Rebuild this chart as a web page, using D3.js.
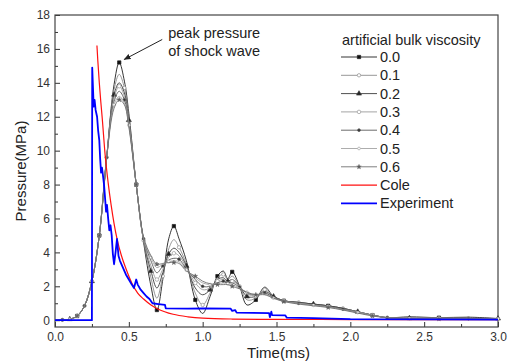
<!DOCTYPE html>
<html>
<head>
<meta charset="utf-8">
<script src="https://cdn.jsdelivr.net/npm/d3@7"></script>
<style>
	body { margin: 0; background: #fff; }
	svg { display: block; font-family: "Liberation Sans", Arial, sans-serif; }
</style>
</head>
<body>
<div id="chart"></div>
<script>
/* global d3 */
'use strict';

// simulated curves share one time axis (ms)
var simTime = [0, 0.05, 0.1, 0.15, 0.2, 0.25, 0.3, 0.35, 0.4, 0.435, 0.47, 0.5, 0.55, 0.6, 0.65, 0.69, 0.73, 0.77, 0.805, 0.84, 0.89, 0.95, 1.0, 1.05, 1.1, 1.14, 1.17, 1.2, 1.25, 1.3, 1.36, 1.42, 1.48, 1.55, 1.65, 1.75, 1.85, 1.95, 2.05, 2.15, 2.25, 2.4, 2.6, 2.8, 3.0];

var visc00 = [0, 0.02, 0.06, 0.25, 0.85, 2.3, 5.0, 9.6, 13.9, 15.2, 14.1, 12.2, 8.0, 4.6, 2.0, 0.6, 2.4, 4.8, 5.55, 4.8, 3.5, 1.2, 0.4, 1.4, 2.6, 2.9, 2.45, 2.85, 2.0, 0.9, 1.2, 1.95, 1.4, 1.15, 1.05, 0.95, 0.85, 0.7, 0.5, 0.3, 0.15, 0.2, 0.15, 0.18, 0.1];
var visc01 = [0, 0.02, 0.06, 0.25, 0.85, 2.3, 5.0, 9.6, 13.6, 14.5, 13.7, 12.0, 8.0, 4.7, 2.5, 1.3, 2.6, 4.2, 4.75, 4.3, 3.3, 1.6, 0.9, 1.6, 2.5, 2.7, 2.4, 2.6, 2.0, 1.2, 1.3, 1.8, 1.4, 1.15, 1.05, 0.95, 0.85, 0.7, 0.5, 0.3, 0.15, 0.12, 0.15, 0.12, 0.1];
var visc02 = [0, 0.02, 0.06, 0.25, 0.85, 2.3, 5.0, 9.6, 13.3, 14.0, 13.4, 11.8, 8.0, 4.7, 2.9, 1.9, 2.8, 3.9, 4.25, 4.0, 3.2, 1.9, 1.5, 1.8, 2.4, 2.5, 2.3, 2.4, 2.0, 1.4, 1.4, 1.7, 1.4, 1.15, 1.05, 0.95, 0.85, 0.7, 0.5, 0.3, 0.15, 0.12, 0.12, 0.12, 0.1];
var visc03 = [0, 0.02, 0.06, 0.25, 0.85, 2.3, 5.0, 9.6, 13.1, 13.8, 13.2, 11.7, 8.0, 4.7, 3.2, 2.4, 3.0, 3.7, 3.95, 3.8, 3.1, 2.2, 1.8, 1.9, 2.3, 2.4, 2.25, 2.3, 2.0, 1.55, 1.45, 1.65, 1.35, 1.15, 1.0, 0.9, 0.8, 0.65, 0.5, 0.3, 0.15, 0.12, 0.12, 0.1, 0.1];
var visc04 = [0, 0.02, 0.06, 0.25, 0.85, 2.3, 5.0, 9.6, 12.9, 13.5, 13.0, 11.6, 8.0, 4.8, 3.5, 2.8, 3.2, 3.55, 3.65, 3.6, 3.0, 2.4, 2.0, 2.0, 2.2, 2.3, 2.2, 2.2, 1.95, 1.6, 1.5, 1.6, 1.35, 1.15, 1.0, 0.9, 0.8, 0.65, 0.45, 0.3, 0.15, 0.1, 0.1, 0.1, 0.08];
var visc05 = [0, 0.02, 0.06, 0.25, 0.85, 2.3, 5.0, 9.6, 12.7, 13.2, 12.8, 11.5, 8.0, 4.8, 3.7, 3.1, 3.3, 3.45, 3.5, 3.45, 2.95, 2.5, 2.2, 2.1, 2.15, 2.2, 2.15, 2.1, 1.9, 1.65, 1.5, 1.55, 1.3, 1.1, 1.0, 0.88, 0.78, 0.62, 0.45, 0.28, 0.15, 0.1, 0.1, 0.08, 0.08];
var visc06 = [0, 0.02, 0.06, 0.25, 0.85, 2.3, 5.0, 9.6, 12.5, 13.0, 12.7, 11.4, 8.0, 4.9, 3.8, 3.3, 3.35, 3.4, 3.4, 3.35, 2.9, 2.6, 2.3, 2.15, 2.1, 2.1, 2.1, 2.0, 1.85, 1.65, 1.5, 1.5, 1.3, 1.1, 0.95, 0.85, 0.75, 0.6, 0.42, 0.25, 0.15, 0.1, 0.08, 0.08, 0.08];

var viscLabels = ["0.0", "0.1", "0.2", "0.3", "0.4", "0.5", "0.6"];

var coleTime = [0.284, 0.29, 0.30, 0.31, 0.32, 0.34, 0.36, 0.38, 0.40, 0.42, 0.45, 0.48, 0.52, 0.56, 0.60, 0.65, 0.70, 0.80, 0.90, 1.0, 1.2, 1.5, 2.0, 2.5, 3.0];
var coleP = [16.2, 15.3, 14.0, 12.9, 11.9, 9.7, 8.1, 6.8, 5.7, 4.8, 3.8, 3.05, 2.2, 1.6, 1.25, 0.9, 0.65, 0.35, 0.2, 0.12, 0.07, 0.05, 0.04, 0.03, 0.03];

var expTime = [0, 0.25, 0.252, 0.262, 0.268, 0.275, 0.285, 0.292, 0.30, 0.306, 0.312, 0.318, 0.324, 0.332, 0.34, 0.346, 0.352, 0.36, 0.368, 0.376, 0.384, 0.392, 0.40, 0.41, 0.42, 0.43, 0.44, 0.46, 0.48, 0.50, 0.52, 0.535, 0.55, 0.56, 0.58, 0.60, 0.62, 0.64, 0.66, 0.70, 0.745, 0.75, 0.90, 1.0, 1.19, 1.2, 1.22, 1.23, 1.45, 1.455, 1.465, 1.47, 1.56, 1.57, 1.75, 2.0, 2.5, 3.0];
var expP = [0, 0, 14.9, 12.6, 13.0, 12.4, 12.0, 11.2, 10.6, 9.5, 8.7, 9.0, 8.6, 8.0, 7.1, 6.4, 6.8, 6.0, 5.3, 5.6, 5.0, 3.9, 3.3, 4.0, 4.8, 3.8, 3.5, 3.1, 2.7, 2.4, 2.1, 1.9, 2.4, 2.1, 1.8, 1.6, 1.4, 1.25, 1.0, 0.95, 0.9, 0.7, 0.68, 0.7, 0.68, 0.55, 0.6, 0.45, 0.42, 0.18, 0.5, 0.3, 0.28, 0.15, 0.12, 0.06, 0.05, 0.04];

var xTicks = [0, 0.5, 1.0, 1.5, 2.0, 2.5, 3.0],
	yTicks = [0, 2, 4, 6, 8, 10, 12, 14, 16, 18];

(function() {
	var width = 511,
		height = 363,
		left = 55, right = 498, top = 15, bottom = 327,
		series = [visc00, visc01, visc02, visc03, visc04, visc05, visc06],
		lineColors = ["#1e1e1e", "#8c8c8c", "#3c3c3c", "#9a9a9a", "#5a5a5a", "#a4a4a4", "#707070"],
		markers = [
			{type: d3.symbolSquare, size: 11, fill: "#111"},
			{type: d3.symbolCircle, size: 9, fill: "#fff"},
			{type: d3.symbolTriangle, size: 11, fill: "#222"},
			{type: d3.symbolCircle, size: 10, fill: "#fff"},
			{type: d3.symbolCircle, size: 6, fill: "#333"},
			{type: d3.symbolCircle, size: 6, fill: "#fff"},
			{type: d3.symbolStar, size: 6, fill: "#555"}
		],
		x, y, svg, line, g, leg;

	x = d3.scaleLinear().domain([0, 3]).range([left, right]);
	y = d3.scaleLinear().domain([-0.4, 18]).range([bottom, top]);

	svg = d3.select("#chart").append("svg")
		.attr("width", width)
		.attr("height", height);

	// axes, ticks inward
	svg.append("g")
		.attr("transform", "translate(0," + bottom + ")")
		.call(d3.axisBottom(x).tickValues([0.25, 0.75, 1.25, 1.75, 2.25, 2.75]).tickSize(-3).tickFormat(""))
		.call(function(a) { a.select(".domain").remove(); });
	svg.append("g")
		.attr("transform", "translate(0," + bottom + ")")
		.call(d3.axisBottom(x).tickValues(xTicks).tickSizeInner(-5).tickSizeOuter(0).tickPadding(5).tickFormat(d3.format(".1f")))
		.call(function(a) { a.select(".domain").remove(); });
	svg.append("g")
		.attr("transform", "translate(" + left + ",0)")
		.call(d3.axisLeft(y).tickValues([1, 3, 5, 7, 9, 11, 13, 15, 17]).tickSize(-3).tickFormat(""))
		.call(function(a) { a.select(".domain").remove(); });
	svg.append("g")
		.attr("transform", "translate(" + left + ",0)")
		.call(d3.axisLeft(y).tickValues(yTicks).tickSizeInner(-5).tickSizeOuter(0).tickPadding(5))
		.call(function(a) { a.select(".domain").remove(); });

	svg.selectAll(".tick line").attr("stroke", "#333");
	svg.selectAll(".tick text").attr("font-size", 12).attr("fill", "#333")
		.attr("font-family", "'Liberation Sans', Arial, sans-serif");

	svg.append("rect")
		.attr("x", left).attr("y", top)
		.attr("width", right - left).attr("height", bottom - top)
		.attr("fill", "none").attr("stroke", "#444").attr("stroke-width", 1.2);

	svg.append("text")
		.attr("x", (left + right) / 2 + 2).attr("y", 358)
		.attr("text-anchor", "middle").attr("font-size", 15).attr("fill", "#222")
		.text("Time(ms)");
	svg.append("text")
		.attr("transform", "translate(26," + (top + bottom) / 2 + ") rotate(-90)")
		.attr("text-anchor", "middle").attr("font-size", 15).attr("fill", "#222")
		.text("Pressure(MPa)");

	g = svg.append("g");

	// simulation curves
	line = d3.line()
		.curve(d3.curveCatmullRom.alpha(0.5))
		.x(function(d) { return x(d[0]); })
		.y(function(d) { return y(d[1]); });

	series.forEach(function(vals, i) {
		var pts = vals.map(function(v, k) { return [simTime[k], v]; });
		g.append("path")
			.datum(pts)
			.attr("fill", "none")
			.attr("stroke", lineColors[i])
			.attr("stroke-width", 0.9)
			.attr("d", line);
		g.append("g").selectAll("path")
			.data(pts.filter(function(d, k) { return k % 3 === i % 3 && k > 0; }))
			.join("path")
			.attr("transform", function(d) { return "translate(" + x(d[0]) + "," + y(d[1]) + ")"; })
			.attr("d", d3.symbol().type(markers[i].type).size(markers[i].size))
			.attr("fill", markers[i].fill)
			.attr("stroke", lineColors[i])
			.attr("stroke-width", 0.7);
	});

	// Cole
	g.append("path")
		.datum(coleTime.map(function(t, k) { return [t, coleP[k]]; }))
		.attr("fill", "none")
		.attr("stroke", "#ff1010")
		.attr("stroke-width", 1.2)
		.attr("d", d3.line().curve(d3.curveMonotoneX)
			.x(function(d) { return x(d[0]); })
			.y(function(d) { return y(d[1]); }));

	// experiment
	g.append("path")
		.datum(expTime.map(function(t, k) { return [t, expP[k]]; }))
		.attr("fill", "none")
		.attr("stroke", "#0000ff")
		.attr("stroke-width", 1.8)
		.attr("stroke-linejoin", "round")
		.attr("d", d3.line()
			.x(function(d) { return x(d[0]); })
			.y(function(d) { return y(d[1]); }));

	// annotation pointing at the 0.0 peak
	var px = x(simTime[9]), py = y(visc00[9]);
	svg.append("defs").append("marker")
		.attr("id", "arr").attr("viewBox", "0 0 10 10")
		.attr("refX", 9).attr("refY", 5)
		.attr("markerWidth", 7).attr("markerHeight", 7)
		.attr("orient", "auto")
		.append("path").attr("d", "M0,1L10,5L0,9z").attr("fill", "#222");
	svg.append("line")
		.attr("x1", px + 43).attr("y1", py - 23)
		.attr("x2", px + 5).attr("y2", py - 3)
		.attr("stroke", "#222").attr("stroke-width", 1)
		.attr("marker-end", "url(#arr)");
	svg.append("text")
		.attr("x", px + 49).attr("y", py - 24)
		.attr("font-size", 14.5).attr("fill", "#222")
		.text("peak pressure");
	svg.append("text")
		.attr("x", px + 49).attr("y", py - 6)
		.attr("font-size", 14.5).attr("fill", "#222")
		.text("of shock wave");

	// legend
	leg = svg.append("g").attr("transform", "translate(341,40)");
	leg.append("text")
		.attr("x", 1).attr("y", 5)
		.attr("font-size", 14.5).attr("fill", "#222")
		.text("artificial bulk viscosity");

	var items = viscLabels.map(function(l, i) {
		return {label: l, color: lineColors[i], marker: markers[i], width: 0.9};
	});
	items.push({label: "Cole", color: "#ff1010", marker: null, width: 1.2});
	items.push({label: "Experiment", color: "#0000ff", marker: null, width: 1.8});

	items.forEach(function(it, i) {
		var row = leg.append("g").attr("transform", "translate(0," + (17 + i * 18.3) + ")");
		row.append("line")
			.attr("x1", 0).attr("x2", 36)
			.attr("stroke", it.color).attr("stroke-width", it.width);
		if (it.marker) {
			row.append("path")
				.attr("transform", "translate(18,0)")
				.attr("d", d3.symbol().type(it.marker.type).size(it.marker.size))
				.attr("fill", it.marker.fill)
				.attr("stroke", it.color)
				.attr("stroke-width", 0.7);
		}
		row.append("text")
			.attr("x", 39).attr("y", 5)
			.attr("font-size", 14.5).attr("fill", "#222")
			.text(it.label);
	});
})();
</script>
</body>
</html>
